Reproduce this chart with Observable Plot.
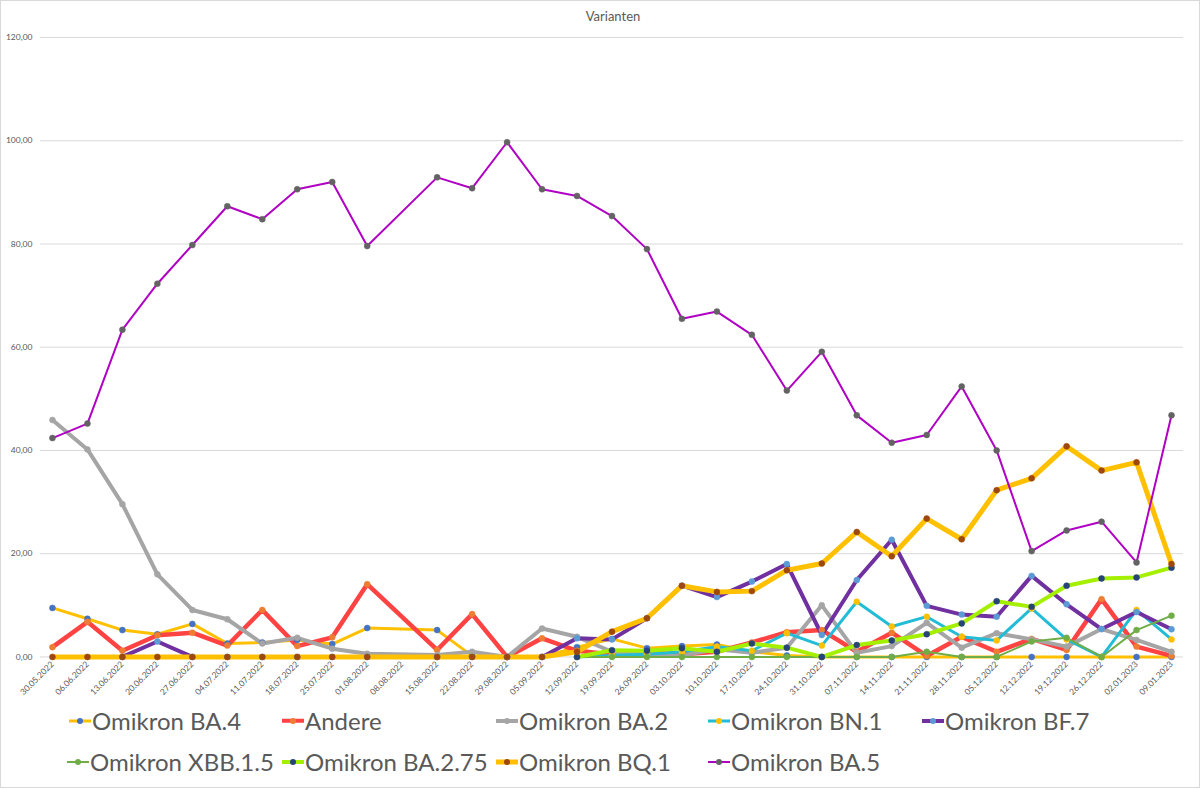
<!DOCTYPE html>
<html>
<head>
<meta charset="utf-8">
<script src="https://cdn.jsdelivr.net/npm/d3@7"></script>
<script src="https://cdn.jsdelivr.net/npm/@observablehq/plot@0.6"></script>
<style>
  html, body { margin: 0; padding: 0; background: #fff; }
  #wrap { position: relative; width: 1198px; height: 786px; border: 1px solid #d9d9d9; background: #fff; font-family: Lato, "Open Sans", sans-serif; overflow: hidden; }
  #title { position: absolute; top: 7px; left: 0; width: 1224px; text-align: center; font-size: 13px; color: #595959; }
  #chart { position: absolute; top: -1px; left: -1px; }
  .lg { position: absolute; display: flex; align-items: center; font-size: 24px; color: #595959; white-space: nowrap; }
  .lg .sw { position: relative; width: 22px; height: 20px; margin-right: 1px; }
  .lg .sw .ln { position: absolute; left: 0; right: 0; top: 50%; transform: translateY(-50%); }
  .lg .sw .mk { position: absolute; left: 8px; top: 7px; width: 6px; height: 6px; border-radius: 50%; }
</style>
</head>
<body>
<div id="wrap">
  <div id="title">Varianten</div>
  <div id="chart"></div>
  <div id="legend"></div>
</div>
<script>
const dates = ["30.05.2022","06.06.2022","13.06.2022","20.06.2022","27.06.2022","04.07.2022","11.07.2022","18.07.2022","25.07.2022","01.08.2022","08.08.2022","15.08.2022","22.08.2022","29.08.2022","05.09.2022","12.09.2022","19.09.2022","26.09.2022","03.10.2022","10.10.2022","17.10.2022","24.10.2022","31.10.2022","07.11.2022","14.11.2022","21.11.2022","28.11.2022","05.12.2022","12.12.2022","19.12.2022","26.12.2022","02.01.2023","09.01.2023"];

const seriesNames = ["Omikron BA.4","Andere","Omikron BA.2","Omikron BN.1","Omikron BF.7","Omikron XBB.1.5","Omikron BA.2.75","Omikron BQ.1","Omikron BA.5"];

const ba4   = [9.5,7.4,5.2,4.4,6.4,2.6,2.8,3.3,2.5,5.6,null,5.2,0.2,0,0,1.9,3.5,1.7,2.1,2.4,1.0,0.3,0,0,0,0,0,0,0,0,0,0,0];
const andere= [1.9,6.8,1.2,4.2,4.7,2.2,9.1,2.1,3.8,14.1,null,1.35,8.3,0,3.6,1.2,0.5,0.8,0.5,1.0,2.8,4.8,5.2,1.0,4.7,0.2,3.9,1.0,3.5,1.35,11.2,2.0,0.2];
const ba2   = [45.9,40.2,29.6,16.0,9.1,7.3,2.6,3.7,1.6,0.6,null,0.4,1.0,0,5.5,3.9,1.0,0.5,0.3,1.5,0.8,1.8,10.0,0.8,2.1,6.6,1.8,4.6,3.4,2.0,5.4,3.3,1.0];
const bn1   = [null,null,null,null,null,null,null,null,null,null,null,null,null,null,null,0,0.3,0.5,1.0,2.0,1.2,4.6,2.2,10.7,5.9,7.8,3.9,3.2,9.4,3.4,0,9.1,3.4];
const bf7   = [null,null,0,3.0,0,0,0,0,0,0,null,0,0,0,0,3.6,3.4,7.5,13.8,11.6,14.6,18.0,4.25,14.9,22.7,9.9,8.2,7.8,15.7,10.2,5.4,8.7,5.35];
const xbb15 = [null,null,null,null,null,null,null,null,null,null,null,null,null,null,null,0,0,0,0,0,0,0,0,0,0,1.0,0,0,3.0,3.7,0,5.2,8.0];
const ba275 = [null,null,null,null,null,null,null,null,null,null,null,null,null,null,null,0,1.3,1.2,1.7,1.0,2.6,1.8,0,2.3,3.2,4.4,6.5,10.8,9.7,13.8,15.2,15.4,17.3];
const bq1   = [0,0,0,0,0,0,0,0,0,0,null,0,0,0,0,1.0,4.9,7.5,13.8,12.6,12.75,16.8,18.1,24.2,19.5,26.8,22.8,32.3,34.6,40.8,36.1,37.7,18.0];
const ba5   = [42.4,45.2,63.4,72.3,79.8,87.3,84.8,90.6,92.0,79.6,null,92.9,90.8,99.7,90.6,89.3,85.4,79.0,65.5,66.9,62.4,51.6,59.1,46.8,41.5,43.0,52.4,40.0,20.5,24.5,26.2,18.3,46.8];

const yTicks = [0,20,40,60,80,100,120];

const lineColors   = ["#FFC000","#FF4343","#A5A5A5","#22BCD6","#7030A0","#70AD47","#A4F000","#FFC000","#B000C4"];
const markerColors = ["#4472C4","#ED7D31","#A5A5A5","#FFC000","#5B9BD5","#70AD47","#264478","#9E480E","#636363"];
const lineWidths   = [3,4.5,4,3,4,2,4,5,2];

const valueLists = [ba4, andere, ba2, bn1, bf7, xbb15, ba275, bq1, ba5];
const series = seriesNames.map((name, i) => ({
  name, line: lineColors[i], marker: markerColors[i], w: lineWidths[i],
  rows: valueLists[i].map((v, j) => ({date: dates[j], value: v})).filter(d => d.value != null)
}));

const fmt = d => d.toFixed(2).replace(".", ",");

const chart = Plot.plot({
  width: 1200,
  height: 700,
  marginTop: 37,
  marginBottom: 43,
  marginLeft: 43,
  marginRight: 19,
  x: {type: "point", domain: dates, padding: 0},
  y: {domain: [0, 120]},
  style: {fontFamily: "Lato, 'Open Sans', sans-serif", color: "#595959", background: "transparent"},
  marks: [
    Plot.ruleY(yTicks, {stroke: "#d9d9d9", strokeWidth: 1, insetLeft: -3, insetRight: -3}),
    Plot.axisY({ticks: yTicks, tickFormat: fmt, tickSize: 0, tickPadding: 11, fontSize: 8.5, label: null}),
    Plot.axisX({tickRotate: -45, tickSize: 0, tickPadding: 6, fontSize: 8.5, label: null}),
    ...series.map(s => Plot.line(s.rows, {x: "date", y: "value", stroke: s.line, strokeWidth: s.w, strokeLinejoin: "round", strokeLinecap: "round"})),
    ...series.map(s => Plot.dot(s.rows, {x: "date", y: "value", r: 3, fill: s.marker, stroke: s.marker, strokeWidth: 0.5}))
  ]
});
document.getElementById("chart").appendChild(chart);

// Legend
const legendPos = [[69,722],[282,722],[496,722],[708,722],[922,722],[67,763],[282,763],[496,763],[708,763]];
const lg = document.getElementById("legend");
series.forEach((s, i) => {
  const item = document.createElement("div");
  item.className = "lg";
  item.style.left = (legendPos[i][0] - 1) + "px";
  item.style.top = (legendPos[i][1] - 17) + "px";
  const sw = document.createElement("div");
  sw.className = "sw";
  const ln = document.createElement("div");
  ln.className = "ln";
  ln.style.height = Math.max(2, s.w) + "px";
  ln.style.background = s.line;
  const mk = document.createElement("div");
  mk.className = "mk";
  mk.style.background = s.marker;
  sw.appendChild(ln); sw.appendChild(mk);
  const tx = document.createElement("span");
  tx.textContent = s.name;
  item.appendChild(sw); item.appendChild(tx);
  lg.appendChild(item);
});
</script>
</body>
</html>
